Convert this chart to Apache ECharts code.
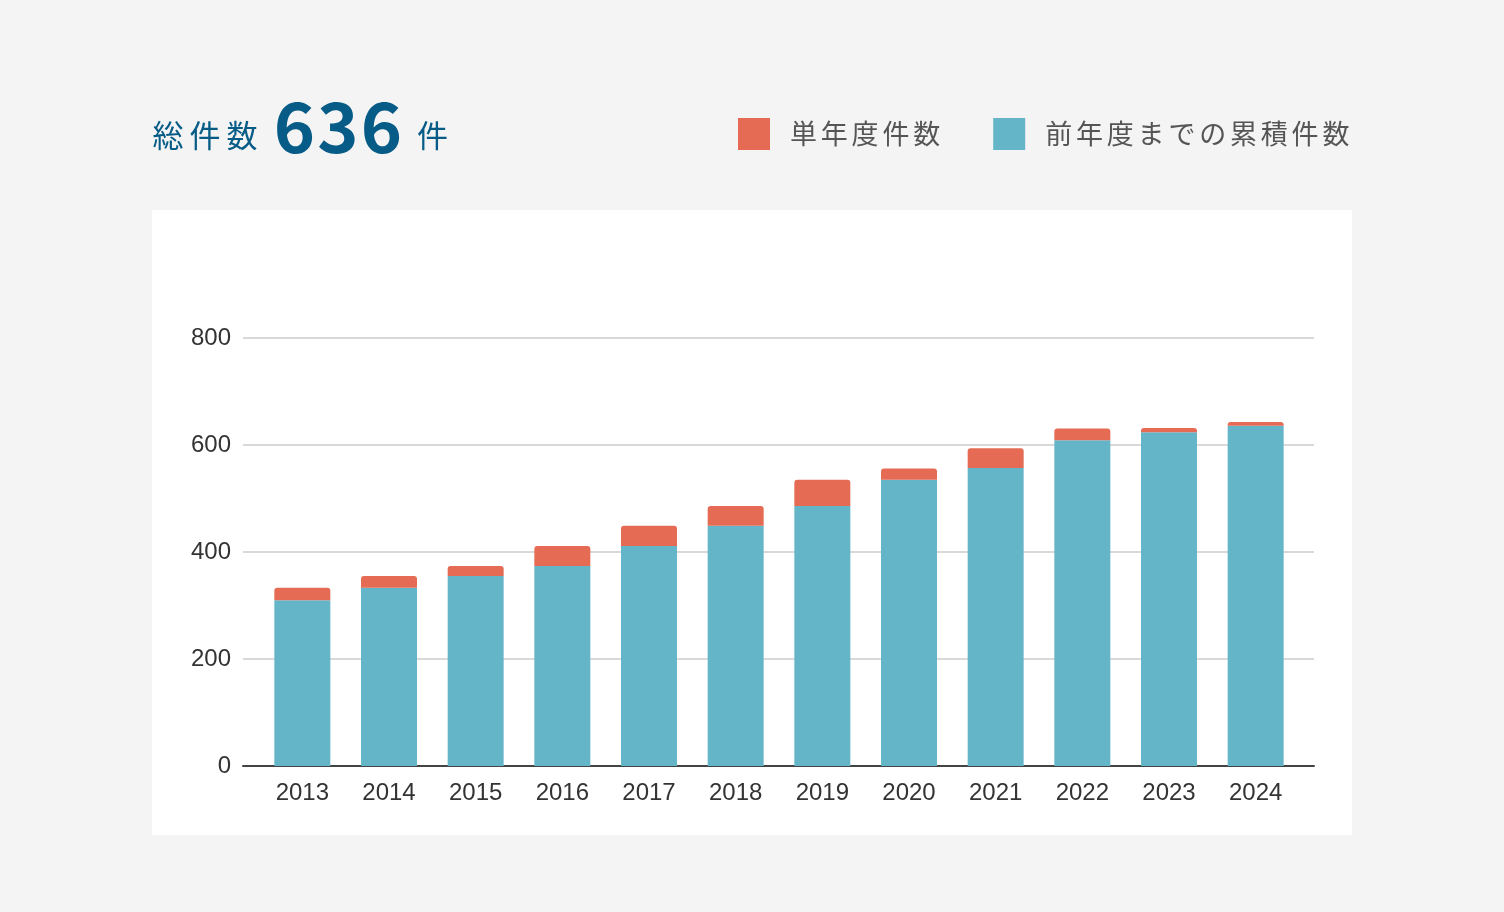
<!DOCTYPE html>
<html><head><meta charset="utf-8">
<script src="https://cdn.jsdelivr.net/npm/echarts@6/dist/echarts.min.js"></script>
<style>html,body{margin:0;padding:0;background:#f4f4f4}#c{width:1504px;height:912px}</style>
</head><body><div id="c"></div><script>
// ---- data ----
const years = ['2013','2014','2015','2016','2017','2018','2019','2020','2021','2022','2023','2024'];
const cumulativePrev = [310, 333, 355, 374, 411, 449, 486, 535, 557, 609, 624, 636];
const singleYear = [23, 22, 19, 37, 38, 37, 49, 21, 37, 22, 8, 7];
const yMin = 0, yMax = 800, yStep = 200;
const titlePrefix = '総件数';
const totalCount = '636';
const titleUnit = '件';
const nameSingle = '単年度件数';
const nameCumulative = '前年度までの累積件数';

const RED = '#e66b54', BLUE = '#65b5c8', NAVY = '#075c87';

function charTexts(str, x0, pitch, y, font, fill) {
  return Array.from(str).map((ch, i) => ({
    type: 'text', z: 10,
    style: { text: ch, x: x0 + i * pitch, y: y, font: font, fill: fill,
      align: 'center', verticalAlign: 'middle', textAlign: 'center', textVerticalAlign: 'middle' }
  }));
}

const jp = '"Noto Sans CJK JP", "Noto Sans", sans-serif';
const graphics = [
  { type: 'rect', z: -100, shape: { x: 152, y: 210, width: 1200, height: 625 }, style: { fill: '#ffffff' } }
].concat(
  charTexts(titlePrefix, 168, 37, 135, 'normal 31px ' + jp, NAVY),
  charTexts(totalCount, 294.5, 43.5, 126, 'bold 70px ' + jp, NAVY),
  charTexts(titleUnit, 432.5, 37, 135, 'normal 31px ' + jp, NAVY)
);

const chart = echarts.init(document.getElementById('c'), null, { renderer: 'canvas' });
chart.setOption({
  backgroundColor: '#f4f4f4',
  animation: false,
  graphic: graphics,
  legend: {
    left: 733, top: 113,
    data: [nameSingle, nameCumulative],
    icon: 'rect', itemWidth: 32, itemHeight: 32, itemGap: 53,
    formatter: n => '{p|}' + Array.from(n).map(c => '{c|' + c + '}').join(''),
    textStyle: {
      color: '#555', fontSize: 27, fontFamily: jp,
      rich: {
        p: { width: 15 },
        c: { width: 30.8, fontSize: 27, color: '#555', fontFamily: jp, align: 'left' }
      }
    }
  },
  grid: [
    { left: 243, right: 190, top: 338, bottom: 146 },
    { left: 259, right: 205, top: 338, bottom: 146 }
  ],
  xAxis: [
    { type: 'value', gridIndex: 0, min: 0, max: 1, show: true,
      axisLine: { show: true, onZero: false, lineStyle: { color: '#444', width: 2 } },
      axisTick: { show: false }, axisLabel: { show: false }, splitLine: { show: false } },
    { type: 'category', gridIndex: 1, data: years,
      axisLine: { show: false }, axisTick: { show: false },
      axisLabel: { margin: 15, fontSize: 24, color: '#333', fontFamily: '"Liberation Sans", Arial, sans-serif' } }
  ],
  yAxis: [
    { type: 'value', gridIndex: 0, min: yMin, max: yMax, interval: yStep,
      axisLine: { show: false }, axisTick: { show: false },
      axisLabel: { margin: 12, fontSize: 24, color: '#333', fontFamily: '"Liberation Sans", Arial, sans-serif' },
      splitLine: { lineStyle: { color: '#d9d9d9', width: 2 } } },
    { type: 'value', gridIndex: 1, min: yMin, max: yMax, interval: yStep, show: false, splitLine: { show: false } }
  ],
  series: [
    { name: nameCumulative, type: 'bar', stack: 'total', xAxisIndex: 1, yAxisIndex: 1,
      barWidth: 56, data: cumulativePrev, itemStyle: { color: BLUE }, z: 3 },
    { name: nameSingle, type: 'bar', stack: 'total', xAxisIndex: 1, yAxisIndex: 1,
      barWidth: 56, data: singleYear, itemStyle: { color: RED, borderRadius: [3, 3, 0, 0] }, z: 3 }
  ]
});
</script></body></html>
